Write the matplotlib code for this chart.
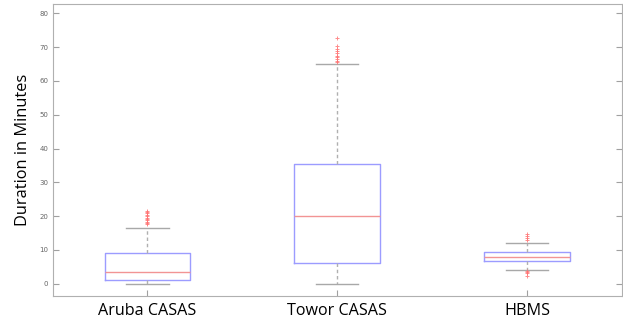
import matplotlib
matplotlib.use("Agg")
import matplotlib.pyplot as plt

# box statistics (minutes)
labels = ["Aruba CASAS", "Towor CASAS", "HBMS"]
q1 = [1.1, 6.3, 6.7]
med = [3.6, 20.0, 8.0]
q3 = [9.2, 35.4, 9.4]
whislo = [0.0, 0.0, 4.0]
whishi = [16.6, 64.9, 12.0]
fliers = [
    [17.6, 18.0, 18.4, 18.8, 19.2, 19.6, 20.0, 20.4, 20.8, 21.2, 21.6],
    [65.5, 66.0, 66.5, 67.0, 67.5, 68.2, 68.8, 69.5, 70.2, 72.6],
    [13.0, 13.5, 14.1, 14.6, 3.7, 3.5, 3.3, 2.2],
]

stats = []
for i, name in enumerate(labels):
    stats.append(dict(label=name, q1=q1[i], med=med[i], q3=q3[i],
                      whislo=whislo[i], whishi=whishi[i], fliers=fliers[i]))

fig = plt.figure(figsize=(6.23, 3.21), dpi=100)
ax = fig.add_axes([0.0843, 0.079, 0.9137, 0.907])

ax.bxp(stats, positions=[1, 2, 3], widths=0.45, showfliers=True,
       boxprops=dict(color="#9c9cff", linewidth=1.0),
       medianprops=dict(color="#f29494", linewidth=1.0),
       whiskerprops=dict(color="#b0b0b0", linestyle=(0, (2.5, 2)), linewidth=1.0),
       capprops=dict(color="#a8a8a8", linewidth=1.0),
       capwidths=0.225,
       flierprops=dict(marker="+", markeredgecolor="#ff7070", markersize=3.5,
                       markeredgewidth=0.7, alpha=0.8, linestyle="none"))

ax.set_xlim(0.5, 3.5)
ax.set_ylim(-3.5, 82.6)
ax.set_yticks(range(0, 81, 10))
ax.set_xticks([1, 2, 3])
ax.set_xticklabels(labels, fontsize=11.6, family="Open Sans")
for sp in ax.spines.values():
    sp.set_color("#b0b0b0")
ax.tick_params(axis="y", direction="in", length=4, color="#a0a0a0",
               labelsize=5, labelcolor="#666666", right=True, pad=3)
ax.tick_params(axis="x", direction="in", length=4, color="#a0a0a0", pad=5)
ax.set_ylabel("Duration in Minutes", fontsize=11.8, family="Open Sans", labelpad=6)

fig.savefig("out.png", dpi=100)
